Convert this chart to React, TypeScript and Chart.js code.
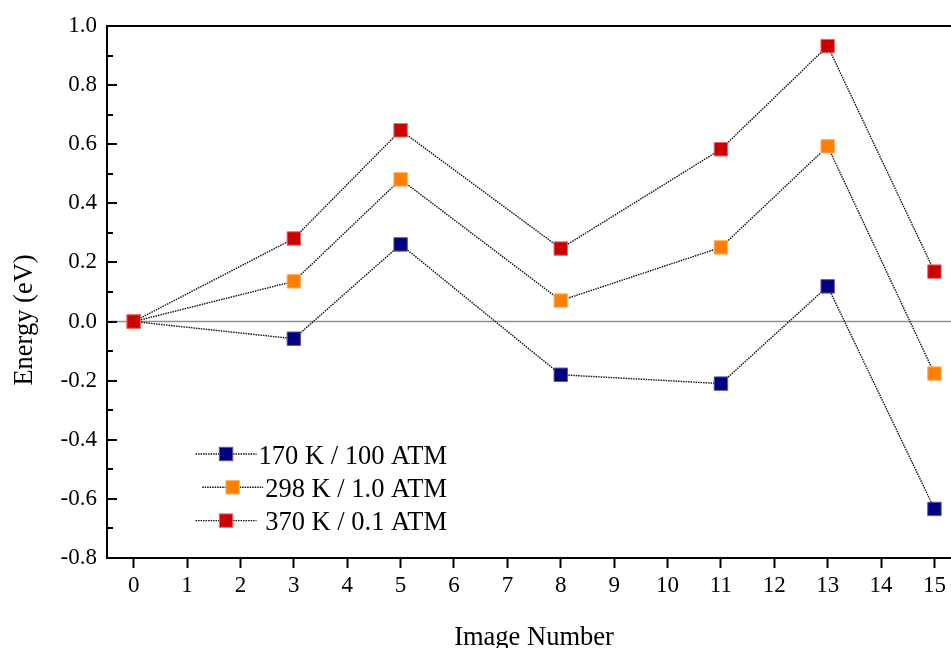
import React, { useEffect, useRef } from "react";
import { Chart, registerables } from "chart.js";

Chart.register(...registerables);

// ---- data ----
const imageNumbers = [0, 3, 5, 8, 11, 13, 15];
const energy170K = [0, -0.058, 0.261, -0.18, -0.21, 0.119, -0.634];
const energy298K = [0, 0.136, 0.481, 0.071, 0.251, 0.593, -0.176];
const energy370K = [0, 0.281, 0.647, 0.247, 0.583, 0.932, 0.169];
const seriesLabels = ["170 K / 100 ATM", "298 K / 1.0 ATM", " 370 K / 0.1 ATM"];
const seriesColors = ["#000080", "#FF8000", "#CC0000"];
const seriesEdge = ["#5a5aa8", "#ffb060", "#e46a6a"];
const xTitle = "Image Number";
const yTitle = "Energy (eV)";
const yMin = -0.8;
const yMax = 1.0;
const yStep = 0.2;
const xMin = -0.5;
const xMax = 15.31;

const FONT = "'Liberation Serif', 'Times New Roman', serif";

const makePoints = (vals: number[]) => imageNumbers.map((x, i) => ({ x, y: vals[i] }));

const decorPlugin = {
  id: "decor",
  beforeDatasetsDraw(chart: any) {
    const { ctx, chartArea: a, scales } = chart;
    const y0 = scales.y.getPixelForValue(0);
    ctx.save();
    ctx.strokeStyle = "#8f8f8f";
    ctx.lineWidth = 1.5;
    ctx.beginPath();
    ctx.moveTo(a.left, y0);
    ctx.lineTo(a.right, y0);
    ctx.stroke();
    ctx.restore();
  },
  afterDraw(chart: any) {
    const { ctx, chartArea: a, scales } = chart;
    const ys = scales.y;
    ctx.save();
    // top frame line
    ctx.strokeStyle = "#000";
    ctx.lineWidth = 2;
    ctx.beginPath();
    ctx.moveTo(a.left - 1, a.top);
    ctx.lineTo(a.right, a.top);
    ctx.stroke();
    // inward y ticks (major + minor)
    const n = Math.round((yMax - yMin) / (yStep / 2));
    for (let i = 0; i <= n; i++) {
      const v = yMin + (i * yStep) / 2;
      const py = Math.round(ys.getPixelForValue(v));
      const len = i % 2 === 0 ? 10 : 6;
      ctx.beginPath();
      ctx.moveTo(a.left, py);
      ctx.lineTo(a.left + len, py);
      ctx.stroke();
    }
    // axis titles
    ctx.fillStyle = "#000";
    ctx.font = `26.5px ${FONT}`;
    ctx.textAlign = "center";
    ctx.textBaseline = "alphabetic";
    ctx.fillText(xTitle, 534, 644.5);
    ctx.save();
    ctx.translate(32, 320);
    ctx.rotate(-Math.PI / 2);
    ctx.fillText(yTitle, 0, 0);
    ctx.restore();
    // legend
    const ds = chart.data.datasets;
    const rightX = a.left + 340;
    for (let i = 0; i < ds.length; i++) {
      const base = 463.5 + i * 33.3;
      ctx.font = `26.5px ${FONT}`;
      ctx.textAlign = "right";
      ctx.fillStyle = "#000";
      const label = ds[i].label as string;
      ctx.fillText(label, rightX, base);
      const w = ctx.measureText(label).width;
      const left = rightX - w;
      const x1 = left - 63;
      const x2 = left - 2;
      const cy = base - 9.5;
      ctx.strokeStyle = "#111";
      ctx.lineWidth = 1.4;
      ctx.setLineDash([1.5, 1]);
      ctx.beginPath();
      ctx.moveTo(x1, cy);
      ctx.lineTo(x2, cy);
      ctx.stroke();
      ctx.setLineDash([]);
      const cx = (x1 + x2) / 2;
      const s = 13.4;
      ctx.fillStyle = ds[i].pointBackgroundColor;
      ctx.fillRect(cx - s / 2, cy - s / 2, s, s);
      ctx.strokeStyle = ds[i].pointBorderColor;
      ctx.lineWidth = 1;
      ctx.strokeRect(cx - s / 2, cy - s / 2, s, s);
    }
    ctx.restore();
  },
};

export default function App() {
  const ref = useRef<HTMLCanvasElement>(null);
  useEffect(() => {
    if (!ref.current) return;
    const series = [energy170K, energy298K, energy370K];
    const chart = new Chart(ref.current, {
      type: "line",
      data: {
        datasets: series.map((vals, i) => ({
          label: seriesLabels[i],
          data: makePoints(vals),
          borderColor: "#111",
          borderWidth: 1.4,
          borderDash: [1.5, 1],
          pointStyle: "rect",
          pointRadius: 9.5,
          pointHoverRadius: 9.5,
          pointBackgroundColor: seriesColors[i],
          pointBorderColor: seriesEdge[i],
          pointBorderWidth: 1,
          tension: 0,
          fill: false,
          order: 2 - i,
        })),
      },
      options: {
        animation: false,
        responsive: false,
        maintainAspectRatio: false,
        events: [],
        layout: { autoPadding: false, padding: { top: 26, right: 0, left: 0, bottom: 0 } },
        plugins: {
          legend: { display: false },
          tooltip: { enabled: false },
          title: { display: false },
        },
        scales: {
          x: {
            type: "linear",
            min: xMin,
            max: xMax,
            afterFit: (s: any) => {
              s.height = 90;
              s.paddingLeft = 0;
              s.paddingRight = 0;
            },
            grid: {
              display: true,
              drawOnChartArea: false,
              drawTicks: true,
              tickLength: 10,
              tickWidth: 2,
              tickColor: "#000",
            },
            border: { display: true, color: "#000", width: 2 },
            ticks: {
              stepSize: 1,
              includeBounds: false,
              autoSkip: false,
              maxRotation: 0,
              padding: 4,
              color: "#000",
              font: { family: FONT, size: 23 },
              callback: (v: any) => String(Math.round(Number(v))),
            },
          },
          y: {
            type: "linear",
            min: yMin,
            max: yMax,
            afterFit: (s: any) => {
              s.width = 107;
              s.paddingTop = 0;
              s.paddingBottom = 0;
            },
            grid: { display: false, drawTicks: false, tickLength: 0 },
            border: { display: true, color: "#000", width: 2 },
            ticks: {
              stepSize: yStep,
              padding: 10,
              color: "#000",
              font: { family: FONT, size: 23 },
              callback: (v: any) => Number(v).toFixed(1),
            },
          },
        },
      },
      plugins: [decorPlugin],
    });
    return () => chart.destroy();
  }, []);
  return (
    <div style={{ position: "absolute", left: 0, top: 0, width: 951, height: 648, background: "#fff" }}>
      <canvas ref={ref} width={951} height={648} style={{ width: 951, height: 648, display: "block" }} />
    </div>
  );
}
